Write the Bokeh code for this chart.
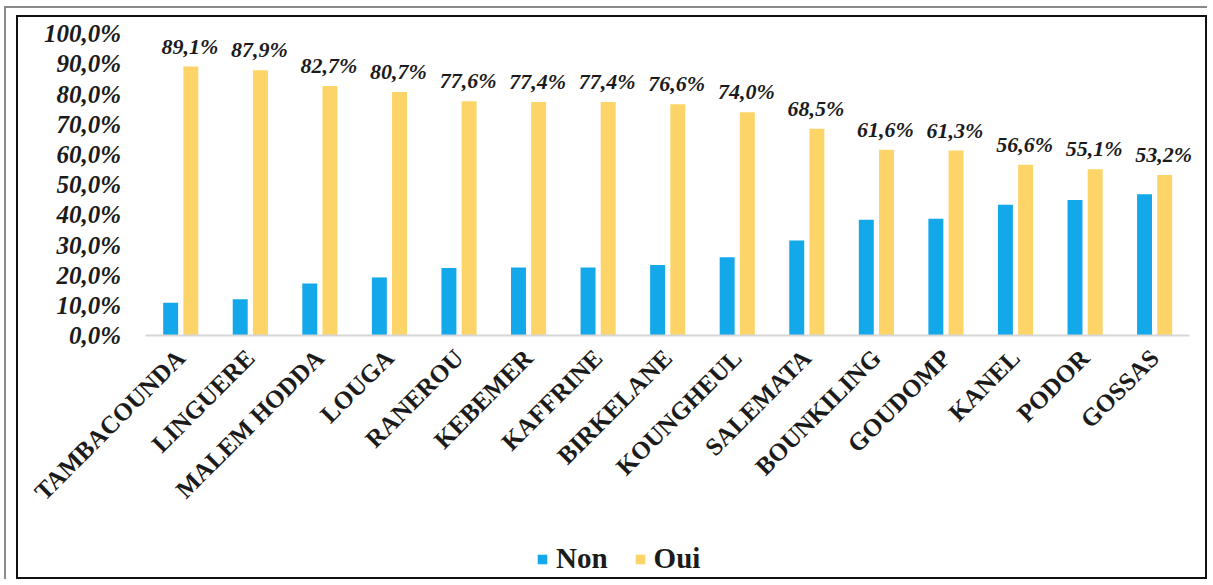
import math

from bokeh.plotting import figure
from bokeh.layouts import column
from bokeh.models import (ColumnDataSource, FixedTicker, CustomJSTickFormatter,
                          LabelSet, Legend, LegendItem)
from bokeh.transform import dodge
from bokeh.embed import file_html
from bokeh.resources import INLINE

# Communes, ordered by the share of "Oui"
communes = ["TAMBACOUNDA", "LINGUERE", "MALEM HODDA", "LOUGA", "RANEROU", "KEBEMER",
            "KAFFRINE", "BIRKELANE", "KOUNGHEUL", "SALEMATA", "BOUNKILING", "GOUDOMP",
            "KANEL", "PODOR", "GOSSAS"]
oui = [89.1, 87.9, 82.7, 80.7, 77.6, 77.4, 77.4, 76.6, 74.0, 68.5, 61.6, 61.3, 56.6, 55.1, 53.2]
non = [10.9, 12.1, 17.3, 19.3, 22.4, 22.6, 22.6, 23.4, 26.0, 31.5, 38.4, 38.7, 43.4, 44.9, 46.8]
y_ticks = [0, 10, 20, 30, 40, 50, 60, 70, 80, 90, 100]

BLUE = "#12A8EA"
GOLD = "#FDD468"
SERIF = "Liberation Serif"
SERIF_CSS = "'Liberation Serif', 'Times New Roman', serif"
INK = "#1b1b1b"

positions = list(range(len(communes)))
source = ColumnDataSource(data=dict(
    pos=positions,
    non=non,
    oui=oui,
    oui_label=[f"{v:.1f}".replace(".", ",") + "%" for v in oui],
))

# The plot area fills the whole black frame; both axes are pinned inside it
# (value axis left of the first commune, commune axis on the 0 % line), so the
# slanted names and the legend are never cut by the plot area's edge.
W, H = 1187, 560
step_px = 69.33          # width of one commune slot
first_px = 161.7         # centre of the first slot from the left edge
px_per_unit = 3.0        # vertical pixels per percentage point
zero_px = 316.0          # 0 % line from the top edge
x_start = -first_px / step_px
x_end = (W - first_px) / step_px
y_top = zero_px / px_per_unit
y_bottom = -(H - zero_px) / px_per_unit

p = figure(width=W, height=H, x_range=(x_start, x_end), y_range=(y_bottom, y_top),
           output_backend="svg", toolbar_location=None,
           min_border_left=0, min_border_right=0, min_border_top=0, min_border_bottom=0,
           styles={"border": "2px solid #111111", "box-sizing": "content-box"})
p.outline_line_color = None
p.xgrid.grid_line_color = None
p.ygrid.grid_line_color = None
p.background_fill_color = "white"
p.border_fill_color = "white"

bar_w = 0.215
r_non = p.vbar(x=dodge("pos", -0.145), top="non", width=bar_w,
               source=source, fill_color=BLUE, line_color=None)
r_oui = p.vbar(x=dodge("pos", 0.145), top="oui", width=bar_w,
               source=source, fill_color=GOLD, line_color=None)

# value labels above the "Oui" bars
labels = LabelSet(x=dodge("pos", 0.13), y="oui", text="oui_label",
                  source=source, text_align="center", text_baseline="bottom", y_offset=8,
                  text_font=SERIF, text_font_style="bold italic", text_font_size="22px",
                  text_color=INK)
p.add_layout(labels)

# y axis: percentages with a decimal comma
p.yaxis.fixed_location = -0.5
p.yaxis.ticker = FixedTicker(ticks=y_ticks)
p.yaxis.formatter = CustomJSTickFormatter(code="return tick.toFixed(1).replace('.', ',') + '%';")
p.yaxis.axis_line_color = None
p.yaxis.major_tick_line_color = None
p.yaxis.minor_tick_line_color = None
p.yaxis.major_label_standoff = 19
p.yaxis.major_label_text_font = SERIF
p.yaxis.major_label_text_font_style = "bold italic"
p.yaxis.major_label_text_font_size = "25px"
p.yaxis.major_label_text_color = INK

# x axis: slanted commune names on a light baseline at 0 %
p.xaxis.fixed_location = 0
p.xaxis.bounds = (-0.5, len(communes) - 0.5)
p.xaxis.ticker = FixedTicker(ticks=positions)
p.xaxis.major_label_overrides = {i: name for i, name in zip(positions, communes)}
p.xaxis.axis_line_color = "#D6D6D6"
p.xaxis.axis_line_width = 2
p.xaxis.major_tick_line_color = None
p.xaxis.minor_tick_line_color = None
p.xaxis.major_label_orientation = math.pi / 4
p.xaxis.major_label_standoff = 12
p.xaxis.major_label_text_font = SERIF
p.xaxis.major_label_text_font_style = "bold"
p.xaxis.major_label_text_font_size = "25px"
p.xaxis.major_label_text_color = INK

# legend at the foot of the chart
legend = Legend(items=[LegendItem(label="Non", renderers=[r_non]),
                       LegendItem(label="Oui", renderers=[r_oui])],
                orientation="horizontal", location=(518, 6),
                glyph_width=12, glyph_height=12, label_standoff=8, spacing=26,
                background_fill_alpha=0, border_line_color=None, padding=0, margin=0)
legend.label_text_font = SERIF_CSS
legend.label_text_font_style = "bold"
legend.label_text_font_size = "29px"
legend.label_text_color = INK
p.add_layout(legend)

page = column(p, styles={"margin-left": "4px", "margin-top": "6px",
                         "border-top": "2px solid #8a8a8a", "border-left": "2px solid #8a8a8a",
                         "padding-left": "10px", "padding-top": "7px"})

open("out.html", "w").write(file_html(page, INLINE))
